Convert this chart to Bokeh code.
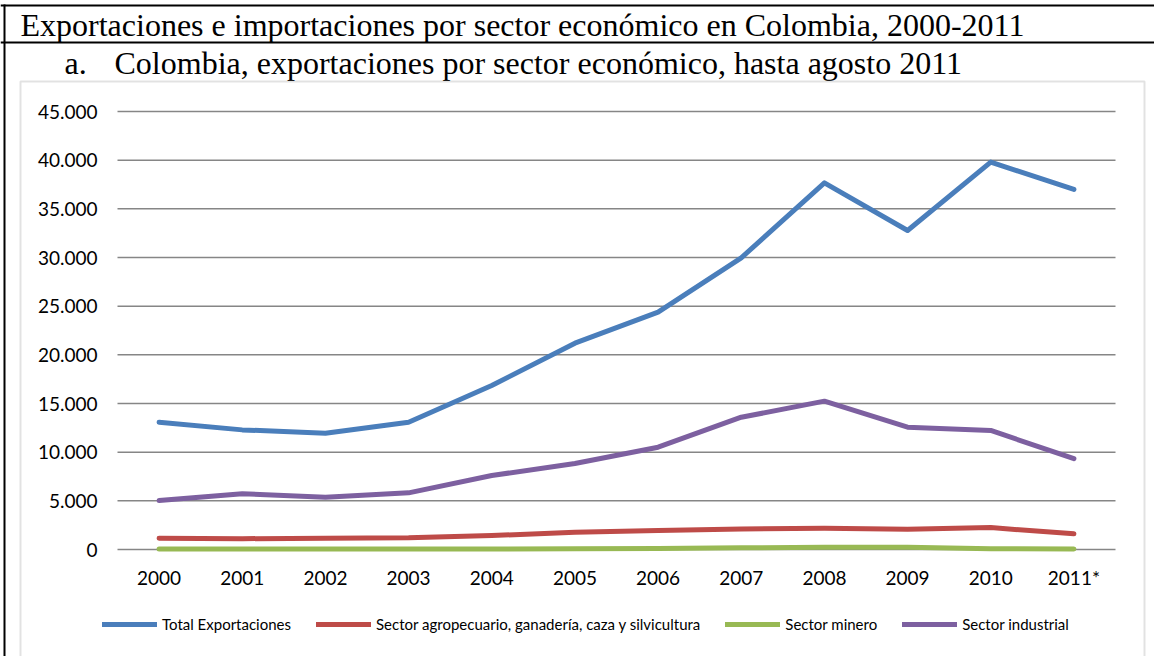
from bokeh.plotting import figure
from bokeh.models import (Range1d, FixedTicker, Label, BoxAnnotation, LinearAxis,
                          Legend, LegendItem)
from bokeh.embed import file_html
from bokeh.resources import INLINE

# ---- data ----
years = ["2000", "2001", "2002", "2003", "2004", "2005", "2006", "2007", "2008", "2009", "2010", "2011*"]
total_exportaciones = [13080, 12290, 11950, 13080, 16850, 21200, 24380, 29970, 37670, 32770, 39800, 36990]
sector_agropecuario = [1160, 1110, 1160, 1200, 1430, 1780, 1950, 2110, 2180, 2080, 2250, 1610]
sector_minero = [40, 40, 40, 40, 60, 70, 90, 170, 230, 220, 80, 40]
sector_industrial = [5030, 5720, 5380, 5820, 7600, 8840, 10510, 13590, 15240, 12570, 12230, 9330]

y_ticks = [0, 5000, 10000, 15000, 20000, 25000, 30000, 35000, 40000, 45000]
y_tick_labels = ["0", "5.000", "10.000", "15.000", "20.000", "25.000", "30.000", "35.000", "40.000", "45.000"]

series_names = ["Total Exportaciones",
                "Sector agropecuario, ganadería, caza y silvicultura",
                "Sector minero",
                "Sector industrial"]
series_colors = ["#4A7EBB", "#BE4B48", "#98B954", "#7D60A0"]

main_title = "Exportaciones e importaciones por sector económico en Colombia, 2000-2011"
sub_letter = "a."
sub_title = "Colombia, exportaciones por sector económico, hasta agosto 2011"

# ---- layout geometry (pixels); the frame covers the whole canvas ----
W, H = 1154, 656
PLOT_LEFT, PLOT_RIGHT = 117, 1115     # plot area in pixels from the left
PLOT_TOP, PLOT_BOTTOM = 111, 549      # plot area in pixels from the top
n = len(years)
x_pos = list(range(n))                # category index positions
px_per_cat = (PLOT_RIGHT - PLOT_LEFT) / n
y_max = y_ticks[-1]
px_per_val = (PLOT_BOTTOM - PLOT_TOP) / y_max

x_start = -0.5 - PLOT_LEFT / px_per_cat
x_end = x_start + W / px_per_cat
y_start = -(H - PLOT_BOTTOM) / px_per_val
y_end = y_max + PLOT_TOP / px_per_val

p = figure(width=W, height=H, output_backend="svg", toolbar_location=None,
           x_range=Range1d(x_start, x_end), y_range=Range1d(y_start, y_end),
           x_axis_location=None, y_axis_location=None,
           min_border=0, min_border_left=0, min_border_right=0, min_border_top=0, min_border_bottom=0)
p.background_fill_color = "white"
p.border_fill_color = "white"
p.outline_line_alpha = 0
p.grid.visible = False

# gridlines spanning the plot area only
p.segment(x0=[-0.5] * len(y_ticks), x1=[n - 0.5] * len(y_ticks), y0=y_ticks, y1=y_ticks,
          line_color="#868686", line_width=1.5)

# axes drawn at fixed locations inside the frame
yaxis = LinearAxis(fixed_location=-0.5, ticker=FixedTicker(ticks=y_ticks),
                   major_label_overrides={t: l for t, l in zip(y_ticks, y_tick_labels)})
xaxis = LinearAxis(fixed_location=0, ticker=FixedTicker(ticks=x_pos),
                   major_label_overrides={i: y for i, y in zip(x_pos, years)})
for ax in (xaxis, yaxis):
    ax.axis_line_alpha = 0
    ax.major_tick_line_alpha = 0
    ax.minor_tick_line_alpha = 0
    ax.major_tick_out = 0
    ax.major_tick_in = 0
    ax.major_label_text_font = "Lato"
    ax.major_label_text_font_size = "19px"
    ax.major_label_text_color = "#000000"
yaxis.major_label_standoff = 20
xaxis.major_label_standoff = 16
p.add_layout(yaxis, "left")
p.add_layout(xaxis, "below")

# lines
renderers = []
for vals, col in zip([total_exportaciones, sector_agropecuario, sector_minero, sector_industrial], series_colors):
    r = p.line(x_pos, vals, line_color=col, line_width=5, line_cap="round", line_join="round")
    renderers.append(r)

# legend
legend = Legend(items=[LegendItem(label=nm, renderers=[r]) for nm, r in zip(series_names, renderers)],
                orientation="horizontal", location=(102, H - 634),
                label_text_font="Lato", label_text_font_size="15px", label_text_color="#000000",
                glyph_width=55, glyph_height=20, label_height=20, label_standoff=5, spacing=25,
                padding=0, margin=0, border_line_alpha=0, background_fill_alpha=0)
p.add_layout(legend, "center")

# ---- decorations (screen units: from canvas bottom-left) ----
def box(left, right, top, bottom, **kw):
    return BoxAnnotation(left=left, right=right, top=H - top, bottom=H - bottom,
                         left_units="screen", right_units="screen", top_units="screen", bottom_units="screen",
                         level="overlay", **kw)

p.add_layout(box(0, W + 10, 4, 6, fill_color="black", fill_alpha=1, line_alpha=0))
p.add_layout(box(0, W + 10, 41, 43, fill_color="black", fill_alpha=1, line_alpha=0))
p.add_layout(box(3, 5, 4, H + 10, fill_color="black", fill_alpha=1, line_alpha=0))
p.add_layout(box(20, 1144, 81, H + 20, fill_alpha=0, line_color="#A0A0A0", line_width=2))

# titles
for txt, x, y in [(main_title, 20, 24), (sub_letter, 64, 62), (sub_title, 114, 62)]:
    p.add_layout(Label(x=x, y=H - y, x_units="screen", y_units="screen", text=txt,
                       text_font="Liberation Serif", text_font_size="32px", text_baseline="middle",
                       text_color="black"))

open("out.html", "w").write(file_html(p, INLINE))
